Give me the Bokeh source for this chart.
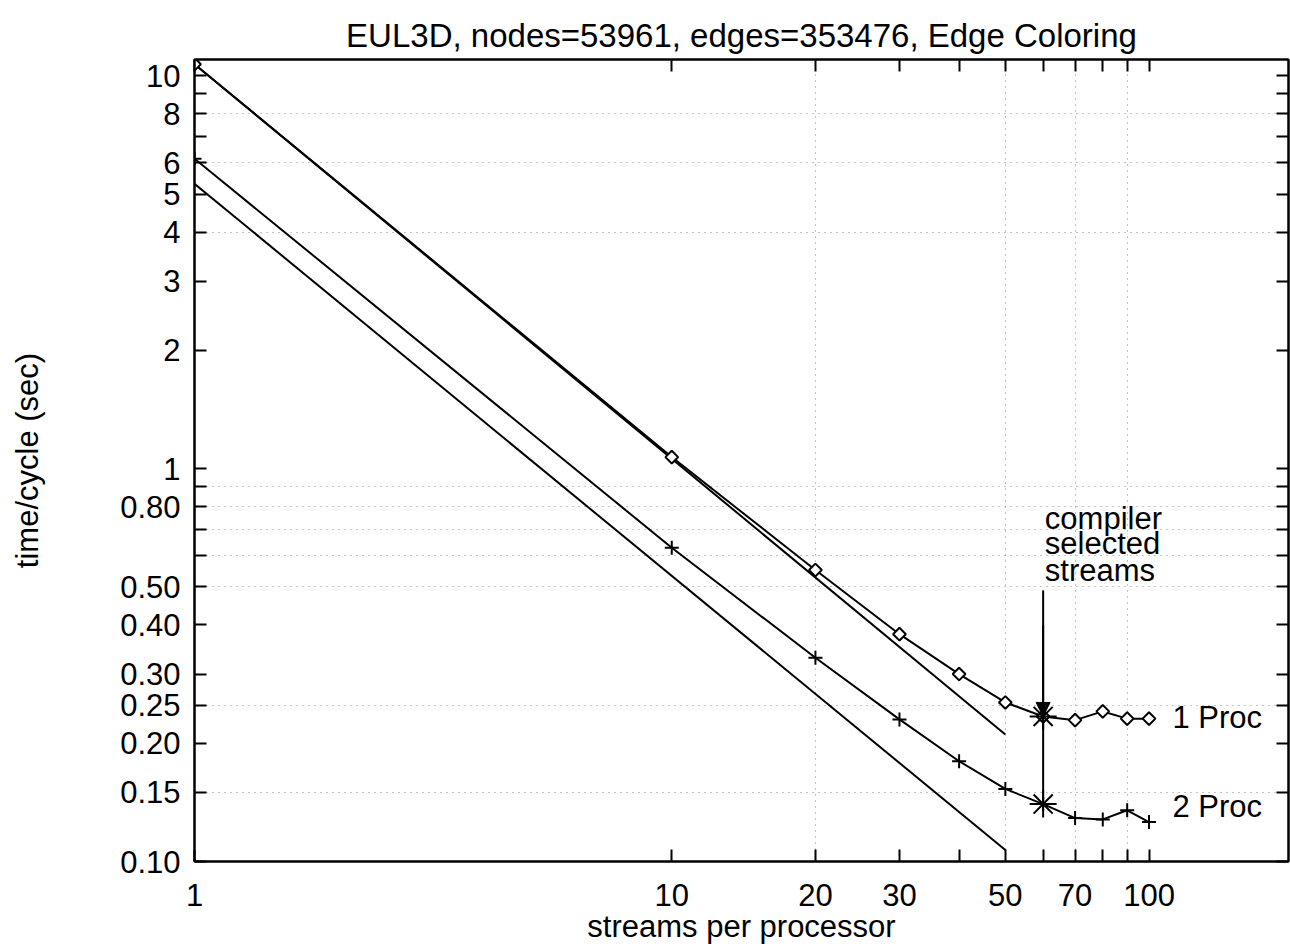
import math
from bokeh.plotting import figure
from bokeh.models import LogAxis, FixedTicker, Label, Arrow, NormalHead
from bokeh.embed import file_html
from bokeh.resources import INLINE

# ---- data ----
streams = [1, 10, 20, 30, 40, 50, 60, 70, 80, 90, 100]
one_proc = [10.7, 1.07, 0.552, 0.379, 0.300, 0.254, 0.234, 0.229, 0.241, 0.231, 0.231]
two_proc = [6.15, 0.629, 0.330, 0.230, 0.180, 0.153, 0.140, 0.129, 0.128, 0.135, 0.126]

ideal_x = [1, 50]
ideal_one = [10.7, 0.2105]
ideal_two = [5.31, 0.107]

selected_streams = 60

x_ticks = [1, 10, 20, 30, 40, 50, 60, 70, 80, 90, 100]
x_tick_labels = ["1", "10", "20", "30", "", "50", "", "70", "", "", "100"]
y_ticks = [0.1, 0.15, 0.2, 0.25, 0.3, 0.4, 0.5, 0.6, 0.7, 0.8, 0.9,
           1, 2, 3, 4, 5, 6, 7, 8, 9, 10]
y_tick_labels = ["0.10", "0.15", "0.20", "0.25", "0.30", "0.40", "0.50", "", "", "0.80", "",
                 "1", "2", "3", "4", "5", "6", "", "8", "", "10"]
x_grid = [20, 50, 70, 90]
y_grid = [0.15, 0.25, 0.5, 0.6, 0.7, 0.8, 0.9, 4, 6, 8]

FONT = "Liberation Sans"

p = figure(width=1290, height=947, x_axis_type="log", y_axis_type="log",
           x_range=(1, 196), y_range=(0.1, 11),
           output_backend="svg", toolbar_location=None,
           min_border_left=194, min_border_right=2, min_border_top=59, min_border_bottom=86,
           title="EUL3D, nodes=53961, edges=353476, Edge Coloring")

bottom_axis = p.below[0]
left_axis = p.left[0]

p.title.text_font = FONT
p.title.text_font_size = "33px"
p.title.text_font_style = "normal"
p.title.text_color = "black"
p.title.align = "center"
p.title.standoff = 12

p.outline_line_color = "black"
p.outline_line_width = 2
p.background_fill_color = "white"
p.border_fill_color = "white"

# grids
p.xgrid.ticker = FixedTicker(ticks=x_grid)
p.ygrid.ticker = FixedTicker(ticks=y_grid)
for g in (p.xgrid, p.ygrid):
    g.grid_line_color = "#8a8a8a"
    g.grid_line_dash = "1 5"
    g.grid_line_width = 1

# extra mirrored axes
top_axis = LogAxis()
right_axis = LogAxis()
p.add_layout(top_axis, "above")
p.add_layout(right_axis, "right")

def style_axis(ax, ticks, labels, show_labels):
    ax.ticker = FixedTicker(ticks=ticks, minor_ticks=[])
    ax.axis_line_color = "black"
    ax.axis_line_width = 2
    ax.major_tick_in = 12
    ax.major_tick_out = 0
    ax.minor_tick_in = 0
    ax.minor_tick_out = 0
    ax.major_tick_line_width = 2
    ax.major_tick_line_color = "black"
    if show_labels:
        ax.major_label_overrides = {t: l for t, l in zip(ticks, labels)}
        ax.major_label_text_font = FONT
        ax.major_label_text_font_size = "31px"
        ax.major_label_text_color = "black"
    else:
        ax.major_label_text_font_size = "0px"
        ax.major_label_standoff = 0
        ax.major_label_text_alpha = 0

style_axis(bottom_axis, x_ticks, x_tick_labels, True)
style_axis(left_axis, y_ticks, y_tick_labels, True)
style_axis(top_axis, x_ticks, x_tick_labels, False)
style_axis(right_axis, y_ticks, y_tick_labels, False)

bottom_axis.major_label_standoff = 22
bottom_axis.axis_label = "streams per processor"
bottom_axis.axis_label_text_font = FONT
bottom_axis.axis_label_text_font_size = "31px"
bottom_axis.axis_label_text_font_style = "normal"
bottom_axis.axis_label_text_color = "black"
bottom_axis.axis_label_standoff = 0

left_axis.major_label_standoff = 14
left_axis.axis_label = "time/cycle (sec)"
left_axis.axis_label_text_font = FONT
left_axis.axis_label_text_font_size = "31px"
left_axis.axis_label_text_font_style = "normal"
left_axis.axis_label_text_color = "black"
left_axis.axis_label_standoff = 72

# ideal-scaling lines
p.line(ideal_x, ideal_one, line_color="black", line_width=2)
p.line(ideal_x, ideal_two, line_color="black", line_width=2)

# measured series
p.line(streams, one_proc, line_color="black", line_width=2)
p.scatter(streams, one_proc, marker="square", angle=math.pi / 4, size=9,
          fill_color="white", line_color="black", line_width=2)
p.line(streams, two_proc, line_color="black", line_width=2)
p.scatter(streams, two_proc, marker="cross", size=14, line_color="black", line_width=2)

# compiler-selected annotation
i_sel = streams.index(selected_streams)
p.line([selected_streams, selected_streams], [0.49, two_proc[i_sel]], line_color="black", line_width=2)
p.add_layout(Arrow(x_start=selected_streams, y_start=0.40, x_end=selected_streams, y_end=one_proc[i_sel],
                   line_color="black", line_width=2,
                   end=NormalHead(size=14, fill_color="black", line_color="black")))
p.scatter([selected_streams, selected_streams], [one_proc[i_sel], two_proc[i_sel]],
          marker="asterisk", size=27, line_color="black", line_width=2)

for txt, yv in (("compiler", 0.746), ("selected", 0.645), ("streams", 0.550)):
    p.add_layout(Label(x=60.5, y=yv, text=txt, text_font=FONT, text_font_size="31px",
                       text_color="black", text_baseline="alphabetic", text_align="left"))

p.add_layout(Label(x=112, y=0.232, text="1 Proc", text_font=FONT, text_font_size="31px",
                   text_color="black", text_baseline="middle", text_align="left"))
p.add_layout(Label(x=112, y=0.138, text="2 Proc", text_font=FONT, text_font_size="31px",
                   text_color="black", text_baseline="middle", text_align="left"))

open("out.html", "w").write(file_html(p, INLINE))
